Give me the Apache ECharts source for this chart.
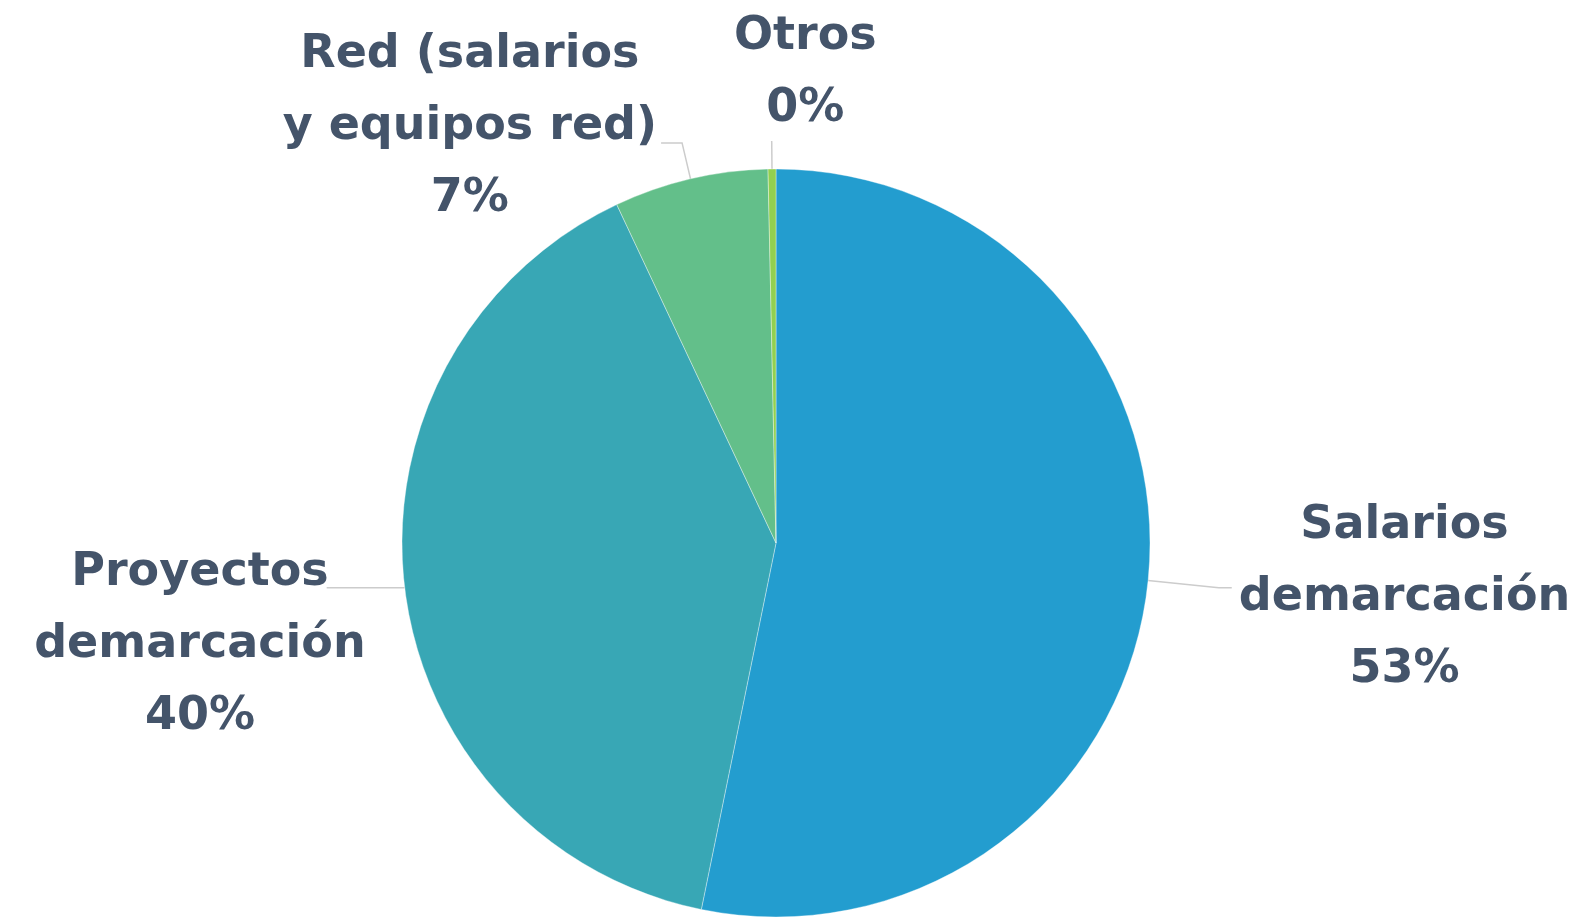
<!DOCTYPE html>
<html>
<head>
<meta charset="utf-8">
<title>Distribución</title>
<script src="https://cdn.jsdelivr.net/npm/echarts@6/dist/echarts.min.js"></script>
<style>
    html, body { margin: 0; padding: 0; background: #ffffff; }
    #container { width: 1588px; height: 922px; }
</style>
</head>
<body>
<div id="container"></div>
<script>
// datos del gráfico (porcentaje del total)
var categorias = ['Salarios\ndemarcación', 'Proyectos\ndemarcación', 'Red (salarios\ny equipos red)', 'Otros'];
var valores = [53.2, 39.8, 6.66, 0.34];
var colores = ['#239dcf', '#38a7b5', '#63bf8a', '#92d050'];
// ajuste de etiquetas por sector: [length, length2, distancia, padding]
var ajustes = [
    [71, 13, 7, [20, 0, 0, 0]],
    [1, 77, -39, [114, 0, 0, 0]],
    [37, 21, 4, [0, 0, 32, 0]],
    [28, 0, -105, [0, 0, 136, 0]]
];

$init();

function $init() {
    var dom = document.getElementById('container');
    var myChart = echarts.init(dom, null, { renderer: 'canvas' });
    var datos = [];
    for (var i = 0; i < categorias.length; i++) {
        datos.push({
            name: categorias[i],
            value: valores[i],
            itemStyle: { color: colores[i] },
            label: { distanceToLabelLine: ajustes[i][2], padding: ajustes[i][3] },
            labelLine: { length: ajustes[i][0], length2: ajustes[i][1] }
        });
    }
    var option = {
        backgroundColor: '#ffffff',
        animation: false,
        series: [
            {
                name: 'Distribución',
                type: 'pie',
                center: [776, 543],
                radius: [0, 374],
                startAngle: 90,
                clockwise: true,
                avoidLabelOverlap: false,
                itemStyle: { borderColor: 'rgba(255,255,255,0.6)', borderWidth: 0.6 },
                label: {
                    show: true,
                    position: 'outside',
                    formatter: function (p) {
                        var lineas = p.name.split('\n');
                        lineas.push(Math.round(p.percent) + '%');
                        return lineas.map(function (t) { return '{a|' + t + '}'; }).join('\n');
                    },
                    rich: {
                        a: {
                            align: 'center',
                            fontFamily: 'DejaVu Sans',
                            fontWeight: 'bold',
                            fontSize: 46,
                            lineHeight: 72,
                            color: '#44546a'
                        }
                    }
                },
                labelLine: {
                    show: true,
                    smooth: false,
                    lineStyle: { color: '#cccccc', width: 1.5 }
                },
                data: datos
            }
        ]
    };
    myChart.setOption(option, true);
}
</script>
</body>
</html>
